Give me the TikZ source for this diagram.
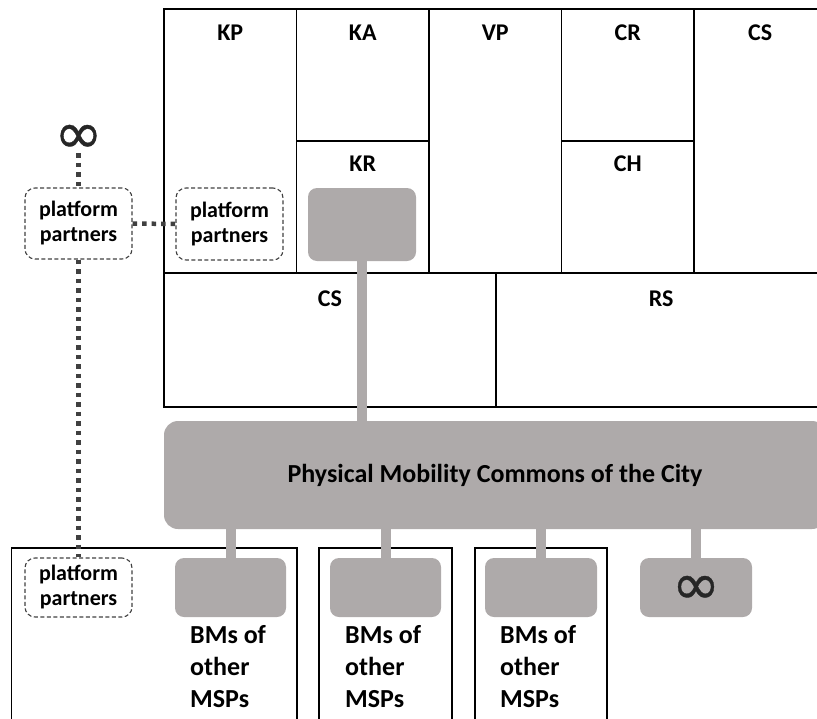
\documentclass[tikz,border=0pt]{standalone}
\usepackage{fontspec}
\setmainfont{Carlito}
\newfontfamily\symfont[FakeBold=0.6]{DejaVu Sans}
\definecolor{bmcgray}{HTML}{AEAAAA}
\definecolor{partnergray}{HTML}{404040}
\tikzstyle{cell}=[draw, line width=1.6pt, inner sep=0pt]
\tikzstyle{head}=[inner sep=0pt, font=\fontsize{24}{29}\selectfont\bfseries]
\tikzstyle{partner}=[rounded corners=10pt, draw=partnergray, line width=1.1pt, dash pattern=on 4pt off 2.5pt, minimum width=107pt, align=center, inner sep=0pt, font=\fontsize{22}{25}\selectfont\bfseries]
\tikzstyle{commons}=[rounded corners=9pt, fill=bmcgray, inner sep=0pt]
\tikzstyle{link}=[line width=10pt, draw=bmcgray]
\tikzstyle{partnerlink}=[line width=4.5pt, draw=partnergray, dash pattern=on 4.5pt off 5pt]
\tikzstyle{msp}=[draw, line width=1.6pt, inner sep=0pt]
\tikzstyle{msptext}=[anchor=north west, inner sep=0pt, align=left, font=\fontsize{26}{32}\selectfont\bfseries]
\tikzstyle{infsign}=[inner sep=0pt, text=black!85, font=\symfont\fontsize{58}{58}\selectfont]

\begin{document}
\begin{tikzpicture}[x=1pt, y=-1pt]

\useasboundingbox (0, 0) rectangle (817, 718);
\clip (0, 0) rectangle (817, 718);

\node [cell, minimum width=132.5pt, minimum height=264pt] (KP) at (230.25, 141) {};
\node [cell, minimum width=132.5pt, minimum height=132pt] (KA) at (362.75, 75) {};
\node [cell, minimum width=132.5pt, minimum height=132pt] (KR) at (362.75, 207) {};
\node [cell, minimum width=132.5pt, minimum height=264pt] (VP) at (495.25, 141) {};
\node [cell, minimum width=132.5pt, minimum height=132pt] (CR) at (627.75, 75) {};
\node [cell, minimum width=132.5pt, minimum height=132pt] (CH) at (627.75, 207) {};
\node [cell, minimum width=132.5pt, minimum height=264pt] (CSeg) at (760.25, 141) {};
\node [cell, minimum width=332pt, minimum height=134pt] (CStr) at (330, 340) {};
\node [cell, minimum width=330.5pt, minimum height=134pt] (RS) at (661.25, 340) {};

\node [head] (KPt) at (230.25, 33) {KP};
\node [head] (KAt) at (362.75, 33) {KA};
\node [head] (VPt) at (495.25, 33) {VP};
\node [head] (CRt) at (627.75, 33) {CR};
\node [head] (CSegt) at (760.25, 33) {CS};
\node [head] (KRt) at (362.75, 164) {KR};
\node [head] (CHt) at (627.75, 164) {CH};
\node [head] (CStrt) at (330, 299) {CS};
\node [head] (RSt) at (661.25, 299) {RS};

\node [msp, minimum width=285.5pt, minimum height=192pt] (M1) at (154.25, 644) {};
\node [msp, minimum width=133pt, minimum height=192pt] (M2) at (385.5, 644) {};
\node [msp, minimum width=132pt, minimum height=192pt] (M3) at (541, 644) {};

\node [commons, minimum width=108pt, minimum height=73pt] (KRbox) at (362, 224.5) {};
\node [commons, rounded corners=14pt, minimum width=662pt, minimum height=108pt, font=\fontsize{26}{31}\selectfont\bfseries] (city) at (495, 475) {Physical Mobility Commons of the City};
\node [commons, minimum width=111pt, minimum height=59pt] (B1) at (230.5, 587.5) {};
\node [commons, minimum width=111pt, minimum height=59pt] (B2) at (385.5, 587.5) {};
\node [commons, minimum width=112pt, minimum height=59pt] (B3) at (541, 587.5) {};
\node [commons, minimum width=112pt, minimum height=59pt] (B4) at (696, 587.5) {};
\node [infsign] (inf4) at (696, 590) {∞};

\draw [link] (KRbox.south) -- (KRbox.south |- city.north);
\draw [link] (B1.north) -- (B1.north |- city.south);
\draw [link] (B2.north) -- (B2.north |- city.south);
\draw [link] (B3.north) -- (B3.north |- city.south);
\draw [link] (B4.north) -- (B4.north |- city.south);

\node [msptext] (T1) at (190, 625) {BMs of\\other\\MSPs};
\node [msptext] (T2) at (345, 625) {BMs of\\other\\MSPs};
\node [msptext] (T3) at (500, 625) {BMs of\\other\\MSPs};

\node [infsign] (inftop) at (78.5, 139) {∞};
\node [partner, minimum height=71pt] (pp1) at (78.5, 223.5) {platform\\partners};
\node [partner, minimum height=72pt] (pp2) at (229.5, 224) {platform\\partners};
\node [partner, minimum height=59pt] (pp3) at (78.5, 587.5) {platform\\partners};

\draw [partnerlink] (inftop.south) -- (pp1.north);
\draw [partnerlink] (pp1.east) -- (pp2.west);
\draw [partnerlink] (pp1.south) -- (pp3.north);

\end{tikzpicture}
\end{document}
